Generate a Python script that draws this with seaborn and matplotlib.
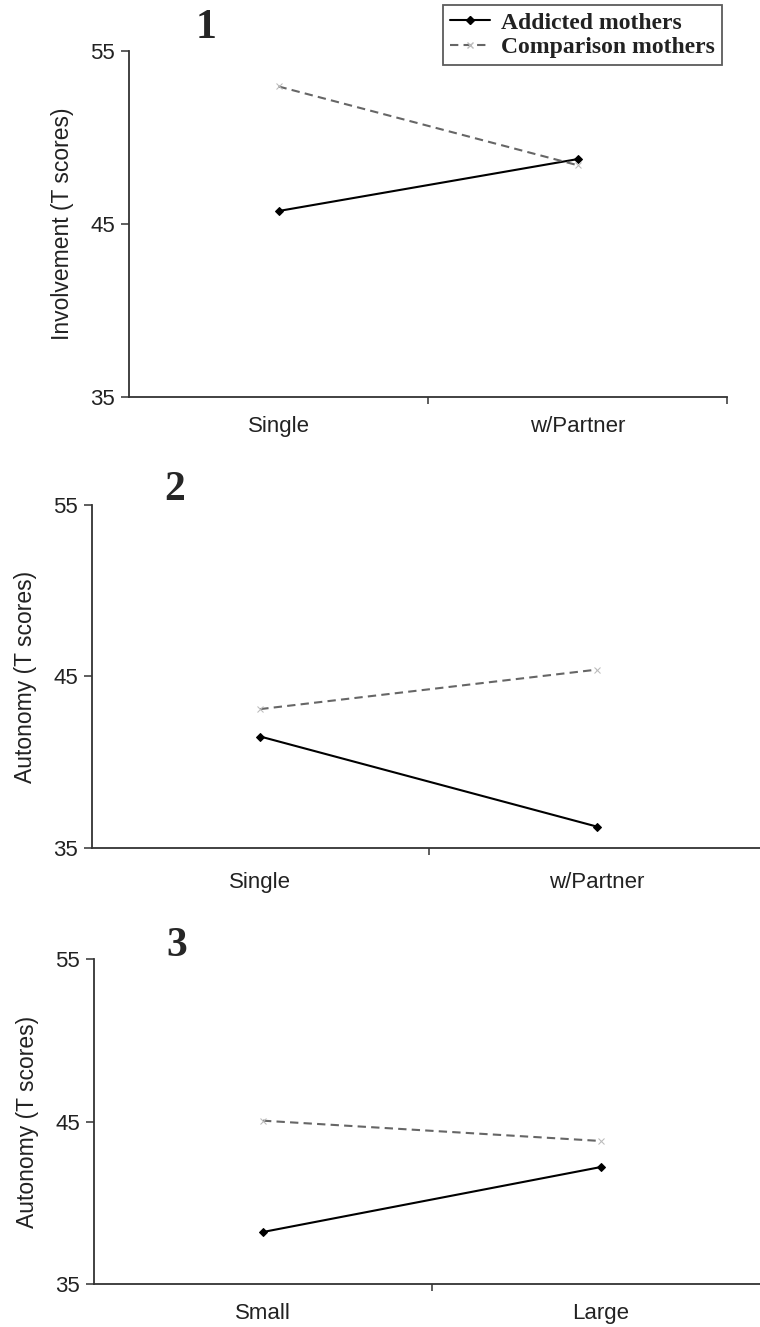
import numpy as np
import pandas as pd
import matplotlib
matplotlib.use("Agg")
import matplotlib.pyplot as plt
import seaborn as sns
from matplotlib.lines import Line2D

sns.set_theme(style="white")
plt.rcParams['font.family'] = ['Liberation Sans', 'DejaVu Sans']

# ---- data ----
series_names = ["Addicted mothers", "Comparison mothers"]
panel_labels = ["1", "2", "3"]
y_labels = ["Involvement (T scores)", "Autonomy (T scores)", "Autonomy (T scores)"]
cats_1 = ["Single", "w/Partner"]
cats_2 = ["Single", "w/Partner"]
cats_3 = ["Small", "Large"]
addicted_1 = [45.75, 48.75]
comparison_1 = [52.95, 48.4]
addicted_2 = [41.5, 36.25]
comparison_2 = [43.1, 45.4]
addicted_3 = [38.2, 42.2]
comparison_3 = [45.05, 43.8]
y_ticks = [35, 45, 55]

panels = [
    (cats_1, addicted_1, comparison_1),
    (cats_2, addicted_2, comparison_2),
    (cats_3, addicted_3, comparison_3),
]

W, H = 760, 1327
fig = plt.figure(figsize=(W / 100, H / 100), dpi=100)

# axes rectangles in pixels: left, right, top, bottom
rects = [(129, 727, 51, 397), (92, 765, 505, 848), (94, 770, 959, 1284)]
label_pos = [(206, 28), (175, 490), (177, 946)]
xpads = [14, 17, 14]

styles = {
    "Addicted mothers": dict(color="black", linestyle="-", marker="D", markersize=4.5,
                             markerfacecolor="black", markeredgecolor="black", linewidth=1.5),
    "Comparison mothers": dict(color="#666666", linestyle=(0, (4, 2.5)), marker="x", markersize=4,
                               markerfacecolor="#bbbbbb", markeredgecolor="#bbbbbb", linewidth=1.5),
}

for i, ((cats, add, comp), (l, r, t, b)) in enumerate(zip(panels, rects)):
    ax = fig.add_axes([l / W, 1 - b / H, (r - l) / W, (b - t) / H])
    xpos = np.arange(len(cats))
    df = pd.DataFrame({
        "x": np.concatenate([xpos, xpos]),
        "y": add + comp,
        "group": [series_names[0]] * len(cats) + [series_names[1]] * len(cats),
    })
    for name in series_names:
        sub = df[df["group"] == name]
        sns.lineplot(data=sub, x="x", y="y", ax=ax, legend=False, **styles[name])
    ax.set_xlim(-0.5, len(cats) - 0.5)
    ax.set_ylim(35, 55)
    ax.set_yticks(y_ticks)
    ax.set_yticklabels([str(v) for v in y_ticks], fontsize=16, color="#222222")
    ax.set_xticks(xpos)
    ax.set_xticklabels(cats, fontsize=16, color="#222222")
    ax.set_xticks([0.5, len(cats) - 0.5], minor=True)
    ax.tick_params(axis="x", which="major", bottom=True, length=0, pad=xpads[i])
    ax.tick_params(axis="x", which="minor", bottom=True, length=5, width=1.1,
                   direction="out", color="#333333")
    ax.tick_params(axis="y", which="major", left=True, length=6, width=1.1,
                   direction="out", color="#333333", pad=4)
    ax.set_xlabel("")
    ax.set_ylabel(y_labels[i], fontsize=16.5, color="#222222", labelpad=12)
    for s in ["top", "right"]:
        ax.spines[s].set_visible(False)
    for s in ["left", "bottom"]:
        ax.spines[s].set_color("#333333")
        ax.spines[s].set_linewidth(1.3)
    lx, ly = label_pos[i]
    fig.text(lx / W, 1 - ly / H, panel_labels[i], fontsize=30, fontweight="bold",
             family="Liberation Serif", ha="center", va="center")

handles = [Line2D([], [], **styles[n]) for n in series_names]
leg = fig.legend(handles, series_names, loc="upper left",
                 bbox_to_anchor=(443 / W, 1 - 5 / H), frameon=True, fancybox=False,
                 prop={"family": "Liberation Serif", "weight": "bold", "size": 17},
                 handlelength=1.7, handletextpad=0.45, borderpad=0.3, labelspacing=0.12,
                 borderaxespad=0)
leg.get_frame().set_edgecolor("#333333")
leg.get_frame().set_linewidth(1.3)
for t in leg.get_texts():
    t.set_color("#222222")

fig.savefig("out.png", dpi=100)
